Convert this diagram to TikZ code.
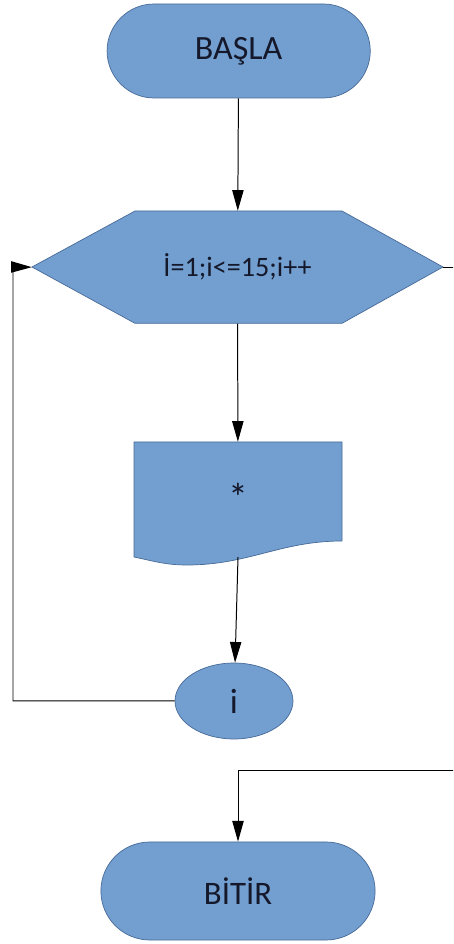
\documentclass[tikz,border=0pt]{standalone}
\usepackage{fontspec}
\setmainfont{Carlito}
\usetikzlibrary{shapes.misc,shapes.geometric,arrows.meta}

\definecolor{boxfill}{RGB}{114,159,207}
\definecolor{boxline}{RGB}{72,106,152}
\definecolor{boxtext}{RGB}{20,24,42}

\begin{document}
\begin{tikzpicture}[>={Triangle[length=0.62cm,width=0.34cm]}]
	\tikzstyle{terminal} = [rounded rectangle, draw=boxline, fill=boxfill, line width=0.6pt, text=boxtext, font=\fontsize{29}{34}\selectfont]
	\tikzstyle{plain_text} = [rectangle, inner sep=0pt, text=boxtext, font=\fontsize{24}{29}\selectfont]
	\tikzstyle{shape_line} = [draw=boxline, fill=boxfill, line width=0.6pt]
	\tikzstyle{out_node} = [ellipse, draw=boxline, fill=boxfill, line width=0.6pt, minimum width=3.54cm, minimum height=2.28cm, inner sep=0pt, text=boxtext, font=\fontsize{30}{34}\selectfont]
	\tikzstyle{flow} = [line width=0.85pt, black]

	\clip (0,0) rectangle (13.59,28.32);

	% Start
	\node (basla) [terminal, minimum width=8.13cm, minimum height=2.82cm] at (7.16,26.79) {BAŞLA};

	% Loop (hexagon)
	\draw[shape_line] (0.96,20.31) -- (4.05,21.99) -- (10.26,21.99) -- (13.29,20.31) -- (10.26,18.62) -- (4.05,18.62) -- cycle;
	\node (loop) [plain_text, minimum width=12.33cm, minimum height=3.37cm] at (7.125,20.305) {İ=1;i<=15;i++};

	% Output (document)
	\draw[shape_line] (4.02,15.06) -- (4.02,11.61) to[out=-12,in=180] (5.61,11.37) to[out=0,in=180] (10.26,12.09) -- (10.26,15.06) -- cycle;
	\node (doc) [plain_text, minimum width=6.24cm, minimum height=3.45cm, font=\fontsize{34}{38}\selectfont] at (7.14,13.335) {\raisebox{0.12cm}{*}};

	% Loop end
	\node (ende) [out_node] at (7.02,7.29) {i};

	% End
	\node (bitir) [terminal, minimum width=8.46cm, minimum height=2.94cm, font=\fontsize{28}{34}\selectfont] at (7.14,1.59) {BİTİR};

	% Corners of the connectors
	\coordinate (back) at (0.39,20.31);
	\coordinate (exit) at (14.2,5.19);

	\draw[flow,->] (basla) -- (loop);
	\draw[flow,->] (loop) -- (doc);
	\draw[flow,->] (doc.south) -- (ende);
	\draw[flow,->] (ende.west) -| (back) -- (loop.west);
	\draw[flow,->] (loop.east) -| (exit) -| (bitir.north);
\end{tikzpicture}
\end{document}
